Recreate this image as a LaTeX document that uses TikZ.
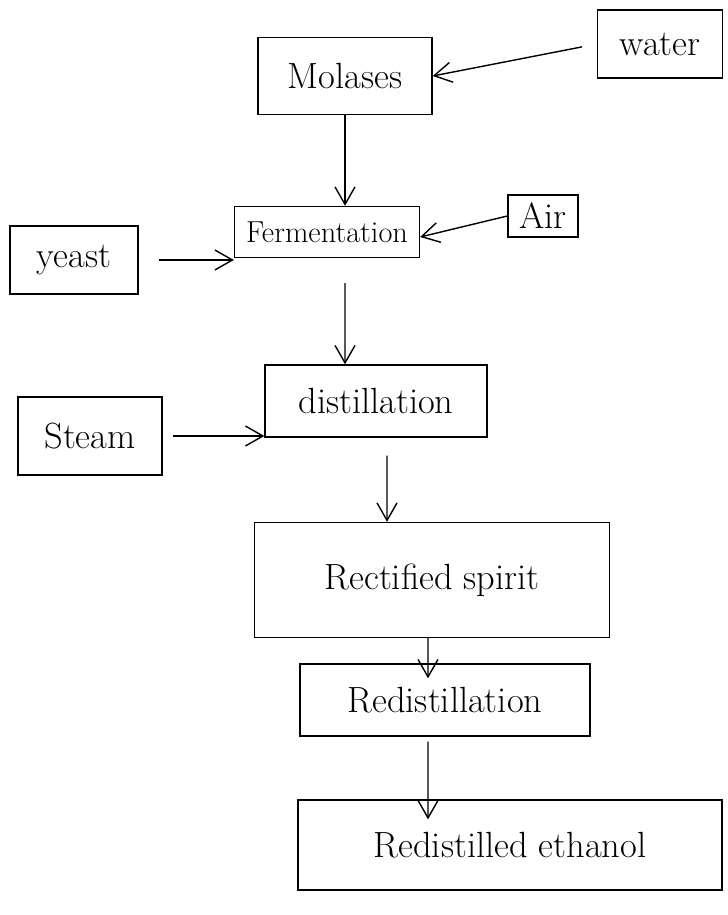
\documentclass[tikz,border=0pt]{standalone}
\usepackage{tikz}
\usetikzlibrary{arrows.meta}
\tikzset{
  stepbox/.style = {shape=rectangle, draw, thick, align=center,
                    inner sep=2pt, font=\huge},
  feed/.style    = {stepbox},
  flow/.style    = {-{Straight Barb[length=3.5mm,width=4mm]}, thick}
}

\begin{document}
\begin{tikzpicture}
 [x=0.02cm, y=-0.02cm]
  \useasboundingbox (0,0) rectangle (727,915);

  \node [stepbox, minimum width=3.48cm, minimum height=1.54cm] (molasses) at (345,76) {Molases};
  \node [feed, minimum width=2.5cm, minimum height=1.36cm] (water) at (660,44) {water};
  \node [stepbox, font=\LARGE, minimum width=3.7cm, minimum height=1.02cm] (ferment) at (327,232) {Fermentation};
  \node [feed, minimum width=1.4cm, minimum height=0.84cm] (air) at (543,216) {Air};
  \node [feed, minimum width=2.56cm, minimum height=1.36cm] (yeast) at (74,260) {yeast};
  \node [stepbox, minimum width=4.44cm, minimum height=1.44cm] (distil) at (376,401) {distillation};
  \node [feed, minimum width=2.88cm, minimum height=1.56cm] (steam) at (90,436) {Steam};
  \node [stepbox, minimum width=7.1cm, minimum height=2.3cm] (spirit) at (432,580) {Rectified spirit};
  \node [stepbox, minimum width=5.8cm, minimum height=1.44cm] (redistil) at (445,700) {Redistillation};
  \node [stepbox, minimum width=8.48cm, minimum height=1.8cm] (ethanol) at (510,845) {Redistilled ethanol};

  % inputs
  \draw [flow, shorten <=0.3cm] (water.west) -- (molasses.east);
  \draw [flow] (air.west) -- ([yshift=-0.1cm]ferment.east);
  \draw [flow, shorten <=0.4cm] (yeast.east) -- (yeast.east -| ferment.west);
  \draw [flow, shorten <=0.2cm] (steam.east) -- (steam.east -| distil.west);

  % main line
  \draw [flow] (molasses.south) -- (molasses.south |- ferment.north);
  \draw [flow, shorten <=0.5cm] ([xshift=0.36cm]ferment.south) -- ([xshift=-0.62cm]distil.north);
  \draw [flow, shorten <=0.36cm] ([xshift=0.22cm]distil.south) -- ([xshift=-0.9cm]spirit.north);
  \draw [flow, shorten >=-0.3cm] ([xshift=-0.08cm]spirit.south) -- ([xshift=-0.34cm]redistil.north);
  \draw [flow, shorten <=0.1cm, shorten >=-0.4cm] ([xshift=-0.34cm]redistil.south) -- ([xshift=-1.64cm]ethanol.north);
\end{tikzpicture}
\end{document}
